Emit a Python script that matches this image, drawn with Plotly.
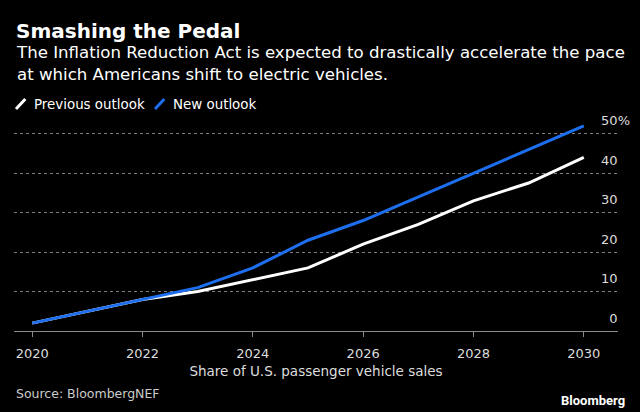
import plotly.graph_objects as go

years = [2020, 2021, 2022, 2023, 2024, 2025, 2026, 2027, 2028, 2029, 2030]
previous_outlook = [2, 5, 8, 10, 13, 16, 22, 27, 33, 37.5, 44]
new_outlook = [2, 5, 8, 11, 16, 23, 28, 34, 40, 46, 52]

x_ticks = [2020, 2022, 2024, 2026, 2028, 2030]
y_ticks = [0, 10, 20, 30, 40, 50]
y_tick_text = ["0", "10", "20", "30", "40", "50%"]

FONT = "DejaVu Sans"
BLUE = "#1d6ff0"
WHITE = "#ffffff"

fig = go.Figure()
fig.add_trace(go.Scatter(x=years, y=previous_outlook, name="Previous outlook",
                         mode="lines", line=dict(color=WHITE, width=3)))
fig.add_trace(go.Scatter(x=years, y=new_outlook, name="New outlook",
                         mode="lines", line=dict(color=BLUE, width=3)))

fig.update_layout(
    width=640, height=412,
    paper_bgcolor="#000000", plot_bgcolor="#000000",
    margin=dict(l=14, r=22, t=114, b=81),
    font=dict(family=FONT, color="#dddddd", size=13),
    showlegend=False,
)

fig.update_xaxes(
    range=[2019.67, 2030.62], tickvals=x_ticks, showgrid=False, zeroline=False,
    showline=True, linecolor="#8a8a8a", linewidth=1, automargin=False,
    ticks="outside", ticklen=5, tickcolor="#8a8a8a", ticklabelstandoff=5,
    tickfont=dict(size=13, color="#dddddd"),
    title=dict(text="Share of U.S. passenger vehicle sales", standoff=6,
               font=dict(size=13.5, color="#dddddd")),
)

# pad the plain numbers with an invisible "%" so they line up with "50%"
y_labels = [t if t.endswith("%") else t + "<span style='color:rgba(0,0,0,0)'>%</span>"
            for t in y_tick_text]
fig.update_yaxes(
    range=[0, 55], tickvals=y_ticks, ticktext=y_labels, side="right",
    ticklabelposition="inside", ticklabelshift=-13, ticklabelstandoff=-15,
    ticklabeloverflow="allow", ticks="", automargin=False,
    showgrid=True, gridcolor="#808080", griddash="dot", gridwidth=1,
    zeroline=False, showline=False,
    tickfont=dict(size=13, color="#dddddd"),
)

# header
fig.add_annotation(text="<b>Smashing the Pedal</b>", xref="paper", yref="paper",
                   x=0.0, y=1.382, xanchor="left", yanchor="middle", showarrow=False,
                   font=dict(size=20, color=WHITE))
fig.add_annotation(text="The Inflation Reduction Act is expected to drastically accelerate the pace<br>"
                        "at which Americans shift to electric vehicles.",
                   xref="paper", yref="paper", x=0.0, y=1.235, xanchor="left",
                   yanchor="middle", align="left", showarrow=False,
                   font=dict(size=16.6, color=WHITE))

# legend: short diagonal strokes + labels
legend_items = [("Previous outlook", WHITE, 0.0033), ("New outlook", BLUE, 0.2334)]
for label, color, xpos in legend_items:
    fig.add_shape(type="line", xref="paper", yref="paper",
                  x0=xpos, y0=1.023, x1=xpos + 0.0155, y1=1.069,
                  line=dict(color=color, width=3))
    fig.add_annotation(text=label, xref="paper", yref="paper", x=xpos + 0.026, y=1.046,
                       xanchor="left", yanchor="middle", showarrow=False,
                       font=dict(size=13.4, color=WHITE))

# footer
fig.add_annotation(text="Source: BloombergNEF", xref="paper", yref="paper",
                   x=0.0, y=-0.29, xanchor="left", yanchor="middle", showarrow=False,
                   font=dict(size=12.5, color="#cccccc"))
fig.add_annotation(text="<b>Bloomberg</b>", xref="paper", yref="paper",
                   x=1.015, y=-0.318, xanchor="right", yanchor="middle", showarrow=False,
                   font=dict(size=13, color=WHITE, family="Liberation Sans Narrow, Roboto"))

# the page's default body margin would shift the figure by 8px
fig.write_html("out.html", config={"displayModeBar": False},
               post_script="document.body.style.margin='0px';")
